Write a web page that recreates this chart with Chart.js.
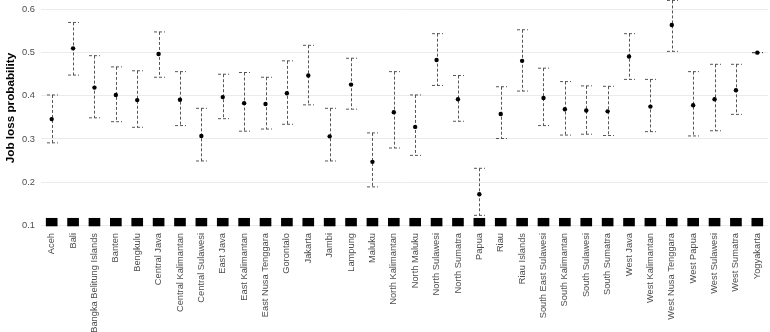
<!DOCTYPE html>
<html><head><meta charset="utf-8">
<script src="https://cdn.jsdelivr.net/npm/chart.js@4/dist/chart.umd.min.js"></script>
<style>html,body{margin:0;padding:0;background:#fff;}#wrap{width:770px;height:332px;}</style>
</head><body><div id="wrap"><canvas id="c"></canvas></div>
<script>
const categories = ["Aceh","Bali","Bangka Belitung Islands","Banten","Bengkulu","Central Java","Central Kalimantan","Central Sulawesi","East Java","East Kalimantan","East Nusa Tenggara","Gorontalo","Jakarta","Jambi","Lampung","Maluku","North Kalimantan","North Maluku","North Sulawesi","North Sumatra","Papua","Riau","Riau Islands","South East Sulawesi","South Kalimantan","South Sulawesi","South Sumatra","West Java","West Kalimantan","West Nusa Tenggara","West Papua","West Sulawesi","West Sumatra","Yogyakarta"];
const estimate = [0.346,0.510,0.419,0.402,0.390,0.497,0.391,0.307,0.397,0.383,0.381,0.406,0.447,0.306,0.426,0.247,0.362,0.328,0.483,0.392,0.172,0.358,0.481,0.395,0.369,0.366,0.364,0.491,0.375,0.564,0.378,0.392,0.413,0.500];
const upper = [0.402,0.570,0.493,0.467,0.458,0.548,0.456,0.371,0.450,0.454,0.443,0.481,0.517,0.371,0.487,0.314,0.456,0.402,0.544,0.447,0.232,0.421,0.553,0.464,0.433,0.423,0.422,0.544,0.438,0.621,0.456,0.473,0.473,0.500];
const lower = [0.291,0.448,0.349,0.340,0.327,0.443,0.331,0.249,0.347,0.318,0.323,0.334,0.379,0.249,0.369,0.189,0.279,0.262,0.424,0.341,0.123,0.301,0.411,0.331,0.309,0.311,0.308,0.438,0.317,0.503,0.307,0.319,0.357,0.500];
const rugLow = 0.0984;
const rugHigh = 0.1162;
const yTicks = [0.1,0.2,0.3,0.4,0.5,0.6];
const yTitle = 'Job loss probability';

const FONT = "'Liberation Sans', Arial, Helvetica, sans-serif";

const errorBars = {
  id: 'errorBars',
  beforeDatasetsDraw(chart) {
    const ctx = chart.ctx, x = chart.scales.x, y = chart.scales.y;
    ctx.save();
    ctx.beginPath();
    ctx.rect(chart.chartArea.left, chart.chartArea.top, chart.chartArea.right - chart.chartArea.left, chart.chartArea.bottom - chart.chartArea.top);
    ctx.clip();
    ctx.strokeStyle = '#444';
    ctx.lineWidth = 0.9;
    ctx.setLineDash([3, 2]);
    const hw = 5.5;
    categories.forEach((c, i) => {
      const px = Math.round(x.getPixelForValue(i)) + 0.5;
      const yu = y.getPixelForValue(upper[i]);
      const yl = y.getPixelForValue(lower[i]);
      ctx.beginPath();
      ctx.moveTo(px, yu); ctx.lineTo(px, yl);
      ctx.moveTo(px - hw, yu); ctx.lineTo(px + hw, yu);
      ctx.moveTo(px - hw, yl); ctx.lineTo(px + hw, yl);
      ctx.stroke();
    });
    ctx.restore();
  }
};

const axisTitle = {
  id: 'axisTitle',
  afterDraw(chart) {
    const ctx = chart.ctx;
    ctx.save();
    ctx.translate(10.5, 108);
    ctx.rotate(-Math.PI / 2);
    ctx.font = "bold 11.7px " + FONT;
    ctx.fillStyle = '#000';
    ctx.textAlign = 'center';
    ctx.textBaseline = 'middle';
    ctx.fillText(yTitle, 0, 0);
    ctx.restore();
  }
};

new Chart(document.getElementById('c'), {
  type: 'bar',
  data: {
    labels: categories,
    datasets: [
      {
        type: 'line',
        data: estimate,
        showLine: false,
        pointRadius: 2.2,
        pointBackgroundColor: '#000',
        pointBorderColor: '#000',
        pointBorderWidth: 0,
        order: 0
      },
      {
        type: 'bar',
        data: categories.map(() => [rugLow, rugHigh]),
        backgroundColor: '#000',
        borderWidth: 0,
        barThickness: 11,
        order: 1
      }
    ]
  },
  options: {
    responsive: true,
    maintainAspectRatio: false,
    animation: false,
    devicePixelRatio: 1,
    layout: { autoPadding: false, padding: { left: 0, right: 2, top: 0, bottom: 0 } },
    plugins: { legend: { display: false }, tooltip: { enabled: false } },
    scales: {
      x: {
        type: 'category',
        offset: true,
        grid: { display: false, offset: false },
        border: { display: false },
        ticks: {
          autoSkip: false,
          maxRotation: 90,
          minRotation: 90,
          padding: -2,
          color: '#4d4d4d',
          font: { family: FONT, size: 9.3 }
        },
        afterFit(axis) { axis.height = 105; axis.paddingLeft = 0; axis.paddingRight = 0; }
      },
      y: {
        type: 'linear',
        min: 0.096,
        max: 0.622,
        grid: { color: '#ebebeb', lineWidth: 1, drawTicks: false },
        border: { display: false },
        afterBuildTicks(axis) { axis.ticks = yTicks.map(v => ({ value: v })); },
        ticks: {
          padding: 6,
          color: '#4d4d4d',
          font: { family: FONT, size: 9.3 },
          callback: v => Number(v).toFixed(1)
        },
        title: { display: false },
        afterFit(axis) { axis.width = 41; axis.paddingTop = 0; axis.paddingBottom = 0; }
      }
    }
  },
  plugins: [errorBars, axisTitle]
});
</script>
</body></html>
